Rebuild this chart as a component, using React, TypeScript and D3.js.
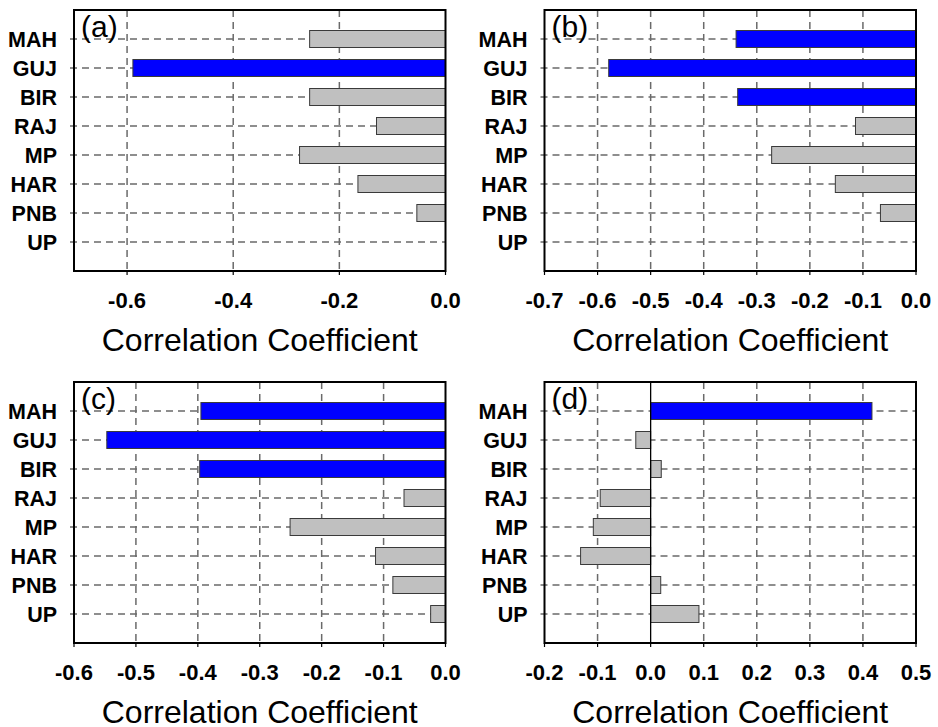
import React from "react";
import * as d3 from "d3";

const categories = ["MAH", "GUJ", "BIR", "RAJ", "MP", "HAR", "PNB", "UP"];

const valuesA = [-0.256, -0.589, -0.256, -0.13, -0.275, -0.165, -0.054, 0];
const valuesB = [-0.339, -0.579, -0.336, -0.114, -0.272, -0.152, -0.067, 0];
const valuesC = [-0.395, -0.547, -0.397, -0.067, -0.251, -0.113, -0.085, -0.024];
const valuesD = [0.417, -0.028, 0.02, -0.095, -0.108, -0.132, 0.019, 0.091];

const signifA = [false, true, false, false, false, false, false, false];
const signifB = [true, true, true, false, false, false, false, false];
const signifC = [true, true, true, false, false, false, false, false];
const signifD = [true, false, false, false, false, false, false, false];

const ticksA = [-0.6, -0.4, -0.2, 0.0];
const ticksB = [-0.7, -0.6, -0.5, -0.4, -0.3, -0.2, -0.1, 0.0];
const ticksC = [-0.6, -0.5, -0.4, -0.3, -0.2, -0.1, 0.0];
const ticksD = [-0.2, -0.1, 0.0, 0.1, 0.2, 0.3, 0.4, 0.5];

const domainA: [number, number] = [-0.7, 0];
const domainB: [number, number] = [-0.7, 0];
const domainC: [number, number] = [-0.6, 0];
const domainD: [number, number] = [-0.2, 0.5];

const panelLabels = ["(a)", "(b)", "(c)", "(d)"];
const axisTitle = "Correlation Coefficient";

const panels = [
  { label: panelLabels[0], values: valuesA, signif: signifA, ticks: ticksA, domain: domainA, x: 74, y: 10 },
  { label: panelLabels[1], values: valuesB, signif: signifB, ticks: ticksB, domain: domainB, x: 544.5, y: 10 },
  { label: panelLabels[2], values: valuesC, signif: signifC, ticks: ticksC, domain: domainC, x: 74, y: 382 },
  { label: panelLabels[3], values: valuesD, signif: signifD, ticks: ticksD, domain: domainD, x: 544.5, y: 382 },
];

const W = 371.5;
const H = 261;
const BAR_H = 17;
const GRID = "#6a6a6a";
const FONT = "Liberation Sans, Arial, sans-serif";

function Panel({ p }: { p: (typeof panels)[number] }) {
  const x = d3.scaleLinear().domain(p.domain).range([p.x, p.x + W]);
  const y = d3.scalePoint<string>().domain(categories).range([p.y, p.y + H]).padding(1);
  const bottom = p.y + H;
  const fmt = (t: number) => d3.format(".1f")(t).replace("\u2212", "-");
  const eps = 1e-9;
  const inner = p.ticks.filter((t) => t > p.domain[0] + eps && t < p.domain[1] - eps);
  const hasZeroInside = 0 > p.domain[0] + eps && 0 < p.domain[1] - eps;
  return (
    <g>
      {categories.map((c) => (
        <line
          key={"h" + c}
          x1={p.x - 4}
          x2={p.x + W}
          y1={y(c)!}
          y2={y(c)!}
          stroke={GRID}
          strokeWidth={1.5}
          strokeDasharray="7,5"
        />
      ))}
      {inner
        .filter((t) => Math.abs(t) > eps)
        .map((t) => (
          <line
            key={"v" + t}
            x1={x(t)}
            x2={x(t)}
            y1={p.y}
            y2={bottom}
            stroke={GRID}
            strokeWidth={1.5}
            strokeDasharray="7,5"
          />
        ))}
      {p.ticks.map((t) => (
        <line key={"tk" + t} x1={x(t)} x2={x(t)} y1={bottom} y2={bottom + 4} stroke="#000" strokeWidth={1.2} />
      ))}
      {categories.map((c, i) => {
        const v = p.values[i];
        if (v === 0) return null;
        const x0 = x(Math.min(0, v));
        const x1 = x(Math.max(0, v));
        return (
          <rect
            key={"b" + c}
            x={x0}
            y={y(c)! - BAR_H / 2}
            width={x1 - x0}
            height={BAR_H}
            fill={p.signif[i] ? "#0000ff" : "#c0c0c0"}
            stroke="#3a3a3a"
            strokeWidth={1}
          />
        );
      })}
      {hasZeroInside && (
        <line x1={x(0)} x2={x(0)} y1={p.y} y2={bottom} stroke="#000" strokeWidth={1.3} />
      )}
      <rect x={p.x} y={p.y} width={W} height={H} fill="none" stroke="#000" strokeWidth={2} />
      <text x={p.x + 7} y={p.y + 27} fontFamily={FONT} fontSize={30} fill="#000">
        {p.label}
      </text>
      {categories.map((c) => (
        <text
          key={"c" + c}
          x={p.x - 17}
          y={y(c)!}
          dy="0.36em"
          textAnchor="end"
          fontFamily={FONT}
          fontWeight="bold"
          fontSize={21.5}
          fill="#000"
        >
          {c}
        </text>
      ))}
      {p.ticks.map((t) => (
        <text
          key={"tl" + t}
          x={x(t)}
          y={bottom + 37}
          textAnchor="middle"
          fontFamily={FONT}
          fontWeight="bold"
          fontSize={22}
          fill="#000"
        >
          {fmt(t)}
        </text>
      ))}
      <text
        x={p.x + W / 2}
        y={bottom + 79.5}
        textAnchor="middle"
        fontFamily={FONT}
        fontSize={32}
        fill="#000"
      >
        {axisTitle}
      </text>
    </g>
  );
}

export default function App() {
  return (
    <svg
      width={938}
      height={727}
      style={{ position: "absolute", left: 0, top: 0, background: "#fff" }}
    >
      <rect x={0} y={0} width={938} height={727} fill="#fff" />
      {panels.map((p) => (
        <Panel key={p.label} p={p} />
      ))}
    </svg>
  );
}
